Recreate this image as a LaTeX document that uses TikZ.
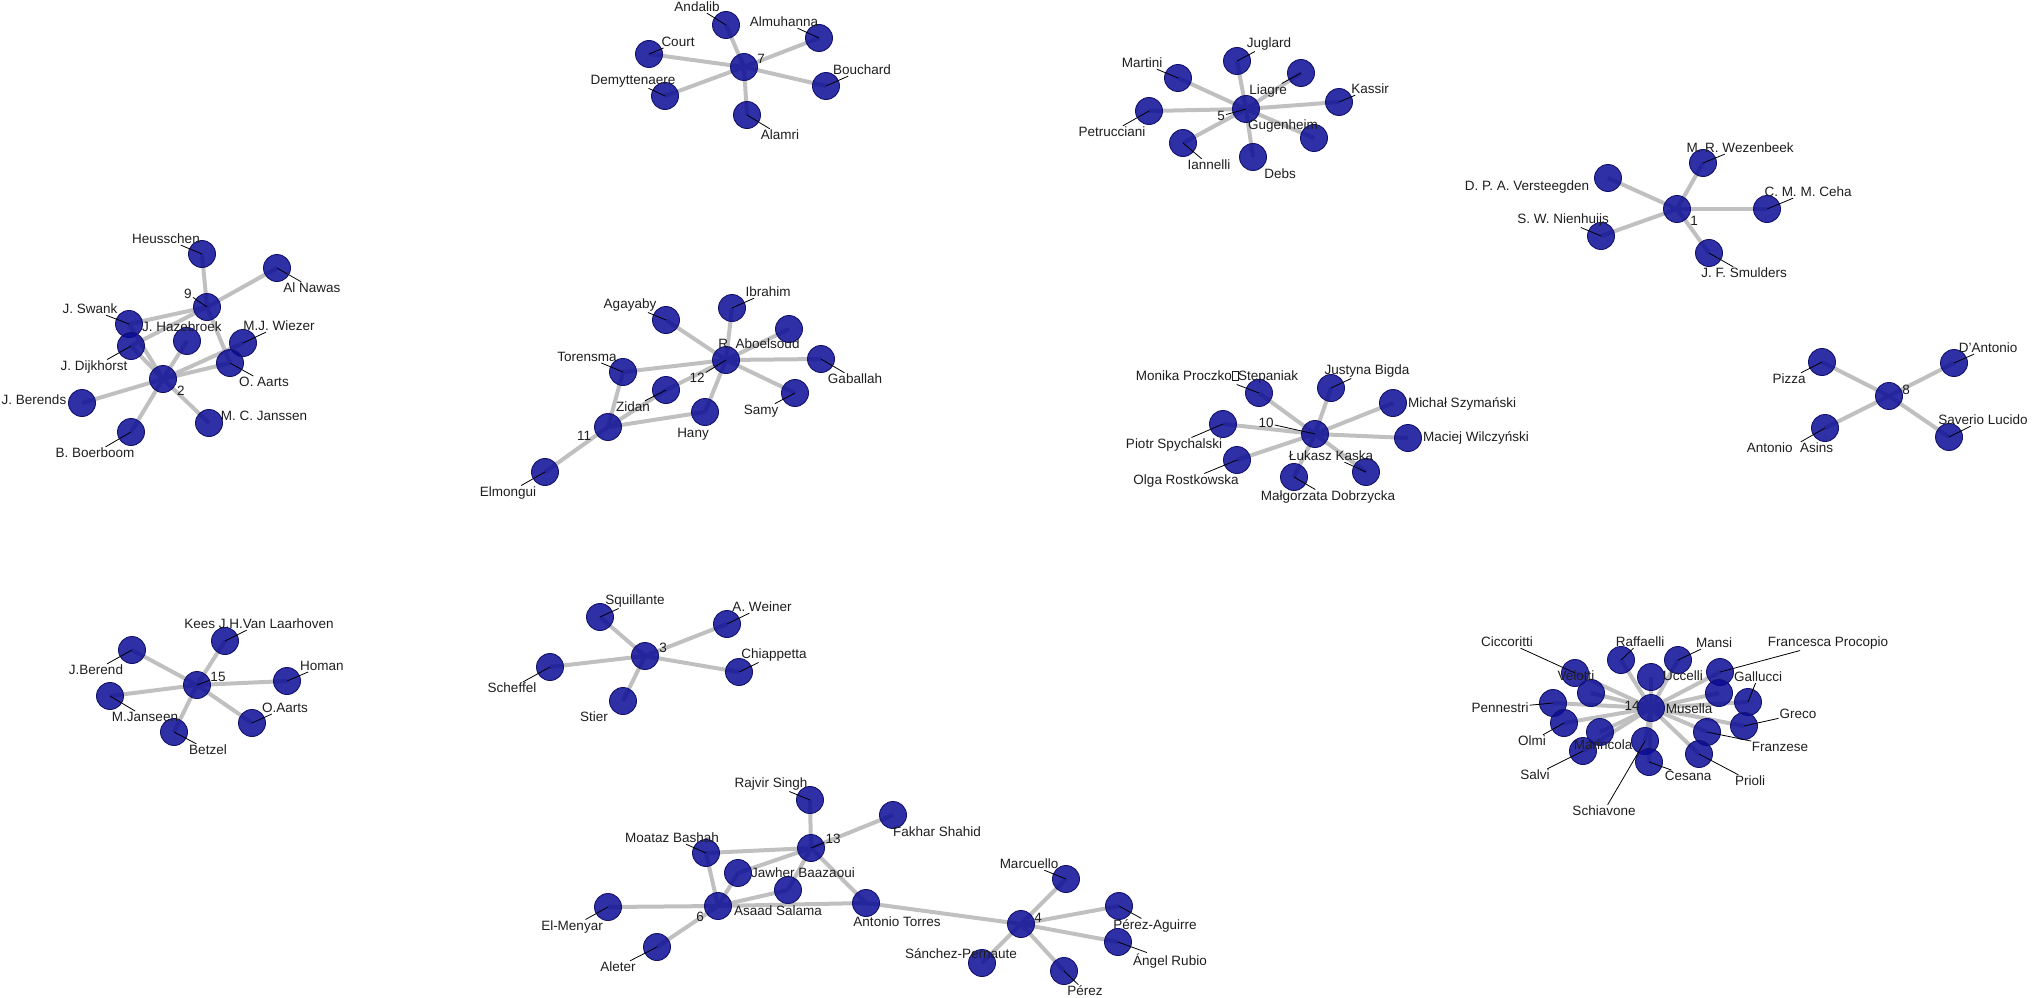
\documentclass[tikz,border=0pt]{standalone}
\usepackage{fontspec}
\setmainfont{Liberation Sans}
\pgfdeclarelayer{bg}
\pgfdeclarelayer{fg}
\pgfsetlayers{bg,main,fg}
\definecolor{nodeblue}{RGB}{10,10,150}
\definecolor{nodeedge}{RGB}{20,20,110}
\definecolor{edgegray}{RGB}{192,192,192}
\definecolor{txt}{RGB}{30,30,30}
\newcommand\authL[4]{\node[au] (#1) at (#2) {};
  \begin{pgfonlayer}{fg}\node[lb] (L#1) at (#3) {#4}; \draw[ld] (#1.center) -- (L#1);\end{pgfonlayer}}
\newcommand\authN[4]{\node[au] (#1) at (#2) {};
  \begin{pgfonlayer}{fg}\node[lb] (L#1) at (#3) {#4};\end{pgfonlayer}}
\newcommand\missbox{{\fboxsep=0pt\fboxrule=0.6pt\fbox{\rule{0pt}{9pt}\hspace{5pt}}}}
\begin{document}
\begin{tikzpicture}[x=1pt,y=-1pt,
  au/.style={circle, minimum size=27pt, inner sep=0pt, fill=nodeblue, fill opacity=0.85, draw=nodeedge, line width=0.9pt},
  ed/.style={draw=edgegray, line width=4pt},
  lb/.style={font=\fontsize{13.5}{15}\selectfont, inner sep=1pt, text=txt},
  ld/.style={draw=black, line width=0.8pt}]
\useasboundingbox (0,0) rectangle (2034,998);
% ---- cluster 9 / 2
\authL{n9}{207,307}{188,294}{9}
\authL{hh}{202,254}{166,239}{Heusschen}
\authL{an}{277,268}{312,288}{Al Nawas}
\authL{js}{129,324}{90,309}{J. Swank}
\authL{jd}{131,346}{94,367}{J. Dijkhorst}
\authN{jh}{187,341}{182,327}{J. Hazebroek}
\authL{mw}{243,343}{279,326}{M.J. Wiezer}
\authL{oa}{230,363}{264,382}{O. Aarts}
\authN{n2}{163,379}{181,391}{2}
\authN{jb}{82,403}{34,400}{J. Berends}
\authL{bb}{131,432}{95,453}{B. Boerboom}
\authN{mc}{209,423}{264,416}{M. C. Janssen}
% ---- cluster 7
\authN{n7}{744,67}{761,59}{7}
\authL{ad}{726,25}{697,7}{Andalib}
\authL{al}{819,38}{784,22}{Almuhanna}
\authL{co}{649,54}{678,42}{Court}
\authL{de}{665,96}{633,81}{Demyttenaere}
\authL{bo}{826,86}{862,70}{Bouchard}
\authL{am}{747,115}{780,135}{Alamri}
% ---- cluster 5
\authL{n5}{1246,109}{1221,116}{5}
\authL{ju}{1237,61}{1269,44}{Juglard}
\authL{ma}{1178,78}{1142,63}{Martini}
\authL{li}{1301,73}{1268,91}{Liagre}
\authL{ka}{1339,102}{1370,89}{Kassir}
\authL{pe}{1149,111}{1112,132}{Petrucciani}
\authN{gu}{1314,138}{1283,126}{Gugenheim}
\authL{ia}{1183,143}{1209,165}{Iannelli}
\authN{db}{1253,157}{1280,174}{Debs}
% ---- cluster 1
\authN{n1}{1677,209}{1694,221}{1}
\authN{vs}{1608,178}{1527,187}{D. P. A. Versteegden}
\authL{wz}{1703,163}{1740,148}{M. R. Wezenbeek}
\authL{ce}{1767,209}{1808,192}{C. M. M. Ceha}
\authL{ni}{1601,236}{1563,220}{S. W. Nienhuijs}
\authL{sm}{1709,253}{1744,273}{J. F. Smulders}
% ---- cluster 12 / 11
\authL{n12}{726,360}{697,378}{12}
\authL{ib}{732,308}{768,292}{Ibrahim}
\authL{ag}{666,320}{630,305}{Agayaby}
\authN{ra}{789,329}{759,344}{R. Aboelsoud}
\authL{to}{623,372}{587,357}{Torensma}
\authL{ga}{821,359}{855,379}{Gaballah}
\authL{sa}{795,393}{761,411}{Samy}
\authL{zi}{666,390}{633,407}{Zidan}
\authN{ha}{705,412}{693,434}{Hany}
\authN{n11}{608,427}{584,436}{11}
\authL{el}{545,472}{508,493}{Elmongui}
% ---- cluster 10
\authL{n10}{1315,434}{1266,423}{10}
\authL{mo}{1259,393}{1217,377}{Monika Proczko\missbox Stepaniak}
\authL{jy}{1331,388}{1367,371}{Justyna Bigda}
\authN{mi}{1393,403}{1462,404}{Michał Szymański}
\authL{pi}{1223,424}{1174,445}{Piotr Spychalski}
\authN{mz}{1408,438}{1476,438}{Maciej Wilczyński}
\authL{ol}{1237,460}{1186,481}{Olga Rostkowska}
\authL{lk}{1366,472}{1331,456}{Łukasz Kaska}
\authL{mg}{1294,477}{1328,497}{Małgorzata Dobrzycka}
% ---- cluster 8
\authN{n8}{1889,396}{1906,390}{8}
\authL{pz}{1822,362}{1789,379}{Pizza}
\authL{da}{1954,363}{1988,348}{D'Antonio}
\authL{aa}{1825,428}{1790,448}{Antonio\ \ Asins}
\authL{sl}{1949,437}{1983,420}{Saverio Lucido}
% ---- cluster 15
\authL{n15}{197,685}{218,677}{15}
\authL{jr}{132,650}{96,670}{J.Berend}
\authL{ke}{225,641}{259,624}{Kees J.H.Van Laarhoven}
\authL{ho}{287,681}{322,666}{Homan}
\authL{mj}{110,696}{145,717}{M.Janseen}
\authL{ot}{252,723}{285,708}{O.Aarts}
\authL{bz}{174,732}{208,750}{Betzel}
% ---- cluster 3
\authN{n3}{645,656}{663,648}{3}
\authL{sq}{600,617}{635,601}{Squillante}
\authL{aw}{727,624}{762,607}{A. Weiner}
\authL{sc}{550,667}{512,688}{Scheffel}
\authL{ch}{739,672}{774,655}{Chiappetta}
\authN{st}{623,701}{594,717}{Stier}
% ---- cluster 14
\authN{n14}{1651,708}{1632,706}{14}
\authL{ci}{1575,673}{1507,642}{Ciccoritti}
\authN{vl}{1591,693}{1576,676}{Velotti}
\authL{rf}{1621,660}{1640,642}{Raffaelli}
\authL{mn}{1678,660}{1714,643}{Mansi}
\authN{uc}{1651,677}{1683,676}{Uccelli}
\authL{fp}{1720,672}{1828,643}{Francesca Procopio}
\authN{mu}{1719,693}{1689,709}{Musella}
\authL{gl}{1748,702}{1758,677}{Gallucci}
\authL{pn}{1553,703}{1500,708}{Pennestri}
\authL{om}{1564,723}{1532,741}{Olmi}
\authL{gr}{1744,726}{1798,714}{Greco}
\authN{mr}{1600,732}{1603,745}{Marincola}
\authL{fz}{1707,732}{1780,747}{Franzese}
\authL{sv}{1583,751}{1535,775}{Salvi}
\authL{sh}{1645,741}{1604,811}{Schiavone}
\authL{cs}{1649,762}{1688,776}{Cesana}
\authL{pr}{1699,754}{1750,781}{Prioli}
% ---- cluster 13 / 6 / 4
\authL{n13}{811,848}{833,839}{13}
\authL{rs}{810,800}{771,784}{Rajvir Singh}
\authN{fs}{893,815}{937,832}{Fakhar Shahid}
\authL{mb}{706,853}{672,838}{Moataz Bashah}
\authN{jw}{738,873}{803,873}{Jawher Baazaoui}
\authN{ux}{788,890}{778,911}{Asaad Salama}
\authN{n6}{718,906}{700,917}{6}
\authL{em}{608,907}{572,927}{El-Menyar}
\authN{at}{866,903}{897,922}{Antonio Torres}
\authL{lt}{657,947}{618,967}{Aleter}
\authN{n4}{1021,924}{1038,918}{4}
\authL{mq}{1066,879}{1029,864}{Marcuello}
\authL{pa}{1119,906}{1155,926}{Pérez-Aguirre}
\authL{ar}{1118,942}{1170,961}{Ángel Rubio}
\authN{sp}{982,963}{961,954}{Sánchez-Pernaute}
\authL{pr2}{1064,971}{1085,991}{Pérez}
% ---- edges
\begin{pgfonlayer}{bg}
\foreach \a/\b in {n9/hh,n9/an,n9/js,n9/jd,n9/oa,n2/js,n2/jd,n2/jh,n2/mw,n2/oa,n2/jb,n2/bb,n2/mc,
  n7/ad,n7/al,n7/co,n7/de,n7/bo,n7/am,
  n5/ju,n5/ma,n5/li,n5/ka,n5/pe,n5/gu,n5/ia,n5/db,
  n1/vs,n1/wz,n1/ce,n1/ni,n1/sm,
  n12/ib,n12/ag,n12/ra,n12/to,n12/ga,n12/sa,n12/zi,n12/ha,n11/to,n11/zi,n11/ha,n11/el,
  n10/mo,n10/jy,n10/mi,n10/pi,n10/mz,n10/ol,n10/lk,n10/mg,
  n8/pz,n8/da,n8/aa,n8/sl,
  n15/jr,n15/ke,n15/ho,n15/mj,n15/ot,n15/bz,
  n3/sq,n3/aw,n3/sc,n3/ch,n3/st,
  n14/ci,n14/vl,n14/rf,n14/mn,n14/uc,n14/fp,n14/mu,n14/gl,n14/pn,n14/om,n14/gr,n14/mr,n14/fz,n14/sv,n14/sh,n14/cs,n14/pr,
  n13/rs,n13/fs,n13/mb,n13/jw,n13/ux,n13/at,n6/mb,n6/jw,n6/ux,n6/em,n6/lt,n6/at,
  n4/at,n4/mq,n4/pa,n4/ar,n4/sp,n4/pr2}
  \draw[ed] (\a.center) -- (\b.center);
\end{pgfonlayer}
\end{tikzpicture}
\end{document}
